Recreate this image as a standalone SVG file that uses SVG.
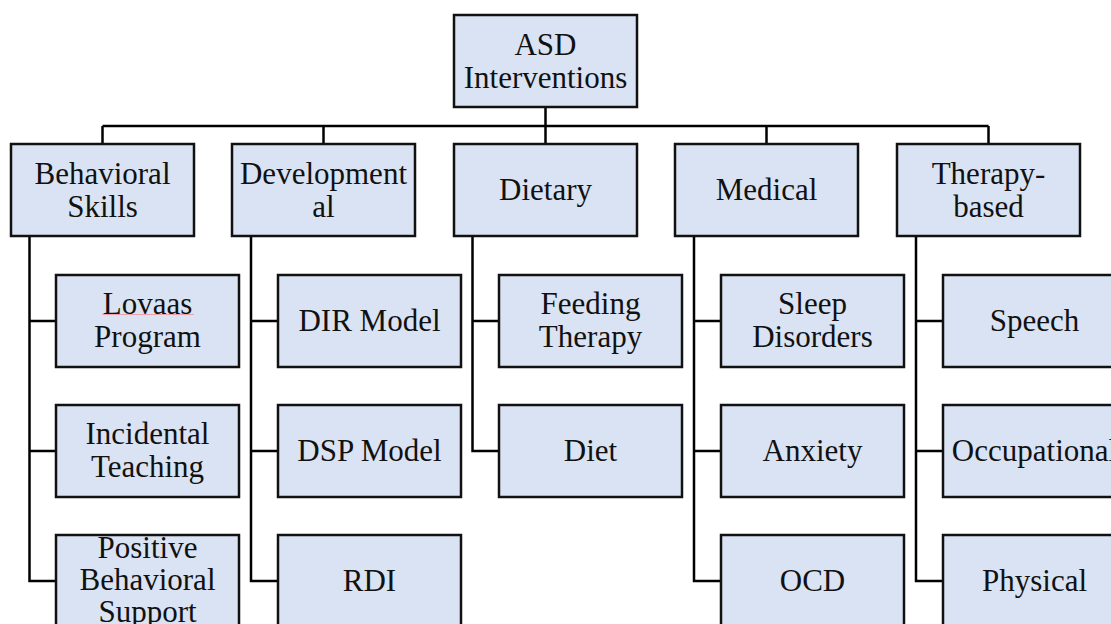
<svg xmlns="http://www.w3.org/2000/svg" width="1111" height="624" viewBox="0 0 1111 624">
<style>
.box{fill:#dae3f3;stroke:#111;stroke-width:2.5}
.t{font-size:31px;fill:#111;text-anchor:middle}
.c{fill:none;stroke:#000;stroke-width:2.5}
</style>
<rect width="1111" height="624" fill="#fff"/>
<g id="connectors">
<path class="c" d="M545.5 107V144M102.5 126H988.5M102.5 126V144M323.5 126V144M766.5 126V144M988.5 126V144"/>
<path class="c" d="M29.5 236V581H56M29.5 321H56M29.5 451H56"/>
<path class="c" d="M251 236V581H278M251 321H278M251 451H278"/>
<path class="c" d="M472.5 236V451H499M472.5 321H499"/>
<path class="c" d="M694 236V581H721M694 321H721M694 451H721"/>
<path class="c" d="M916 236V581H943M916 321H943M916 451H943"/>
</g>
<g font-family="'Liberation Serif', 'DejaVu Serif', serif">
<g id="root"><rect class="box" x="454" y="15" width="183" height="92"/><text class="t" x="545.5" y="54.5">ASD</text><text class="t" x="545.5" y="87.5">Interventions</text></g>
<g id="behavioral"><rect class="box" x="11" y="144" width="183" height="92"/><text class="t" x="102.5" y="183.5">Behavioral</text><text class="t" x="102.5" y="216.5">Skills</text></g>
<g id="developmental"><rect class="box" x="232" y="144" width="183" height="92"/><text class="t" x="323.5" y="183.5">Development</text><text class="t" x="323.5" y="216.5">al</text></g>
<g id="dietary"><rect class="box" x="454" y="144" width="183" height="92"/><text class="t" x="545.5" y="200">Dietary</text></g>
<g id="medical"><rect class="box" x="675" y="144" width="183" height="92"/><text class="t" x="766.5" y="200">Medical</text></g>
<g id="therapy"><rect class="box" x="897" y="144" width="183" height="92"/><text class="t" x="988.5" y="183.5">Therapy-</text><text class="t" x="988.5" y="216.5">based</text></g>
<g id="lovaas"><rect class="box" x="56" y="275" width="183" height="92"/><path d="M102 314.5H194" stroke="#f0a0a8" stroke-width="1.2"/><text class="t" x="147.5" y="314">Lovaas</text><text class="t" x="147.5" y="347">Program</text></g>
<g id="incidental"><rect class="box" x="56" y="405" width="183" height="92"/><text class="t" x="147.5" y="444">Incidental</text><text class="t" x="147.5" y="477">Teaching</text></g>
<g id="pbs"><rect class="box" x="56" y="535" width="183" height="92"/><text class="t" x="147.5" y="557.5">Positive</text><text class="t" x="147.5" y="589.5">Behavioral</text><text class="t" x="147.5" y="621.5">Support</text></g>
<g id="dir"><rect class="box" x="278" y="275" width="183" height="92"/><text class="t" x="369.5" y="331">DIR Model</text></g>
<g id="dsp"><rect class="box" x="278" y="405" width="183" height="92"/><text class="t" x="369.5" y="461">DSP Model</text></g>
<g id="rdi"><rect class="box" x="278" y="535" width="183" height="92"/><text class="t" x="369.5" y="591">RDI</text></g>
<g id="feeding"><rect class="box" x="499" y="275" width="183" height="92"/><text class="t" x="590.5" y="314">Feeding</text><text class="t" x="590.5" y="347">Therapy</text></g>
<g id="diet"><rect class="box" x="499" y="405" width="183" height="92"/><text class="t" x="590.5" y="461">Diet</text></g>
<g id="sleep"><rect class="box" x="721" y="275" width="183" height="92"/><text class="t" x="812.5" y="314">Sleep</text><text class="t" x="812.5" y="347">Disorders</text></g>
<g id="anxiety"><rect class="box" x="721" y="405" width="183" height="92"/><text class="t" x="812.5" y="461">Anxiety</text></g>
<g id="ocd"><rect class="box" x="721" y="535" width="183" height="92"/><text class="t" x="812.5" y="591">OCD</text></g>
<g id="speech"><rect class="box" x="943" y="275" width="183" height="92"/><text class="t" x="1034.5" y="331">Speech</text></g>
<g id="occupational"><rect class="box" x="943" y="405" width="183" height="92"/><text class="t" x="1034.5" y="461">Occupational</text></g>
<g id="physical"><rect class="box" x="943" y="535" width="183" height="92"/><text class="t" x="1034.5" y="591">Physical</text></g>
</g>
</svg>
